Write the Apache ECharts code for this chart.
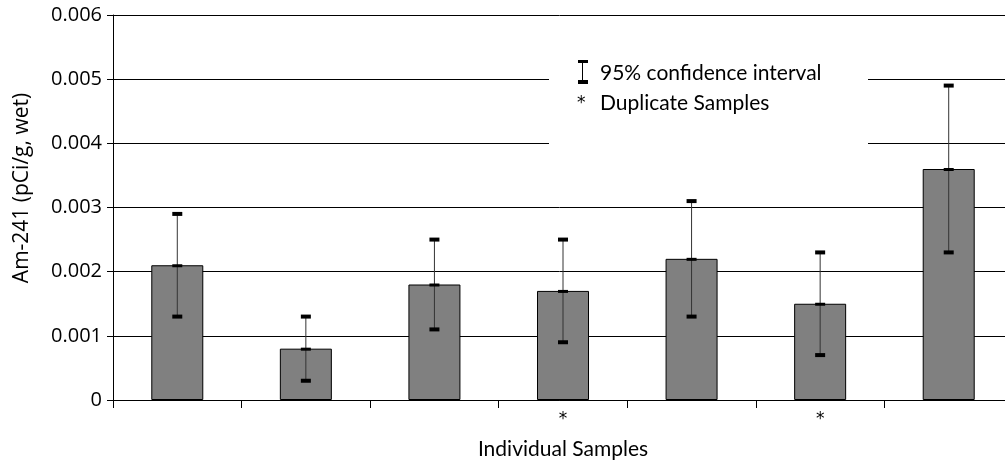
<!DOCTYPE html>
<html>
<head>
<meta charset="utf-8">
<script src="https://cdn.jsdelivr.net/npm/echarts@6/dist/echarts.min.js"></script>
<style>
  html, body { margin: 0; padding: 0; background: #fff; }
  #chart { width: 1005px; height: 461px; }
</style>
</head>
<body>
<div id="chart"></div>
<script>
// data
const samples = ['1', '2', '3', '4', '5', '6', '7'];
const tickLabels = ['', '', '', '*', '', '*', ''];
const values = [0.0021, 0.0008, 0.0018, 0.0017, 0.0022, 0.0015, 0.0036];
const lower = [0.0013, 0.0003, 0.0011, 0.0009, 0.0013, 0.0007, 0.0023];
const upper = [0.0029, 0.0013, 0.0025, 0.0025, 0.0031, 0.0023, 0.0049];

const errData = samples.map(function (s, i) {
    return [i, lower[i], values[i], upper[i]];
});

const chart = echarts.init(document.getElementById('chart'));

function renderErr(params, api) {
    const x = api.value(0);
    const lo = api.coord([x, api.value(1)]);
    const mid = api.coord([x, api.value(2)]);
    const hi = api.coord([x, api.value(3)]);
    const cw = 5;
    const capStyle = { fill: '#000' };
    return {
        type: 'group',
        children: [
            { type: 'line', shape: { x1: hi[0], y1: hi[1], x2: lo[0], y2: lo[1] },
              style: { stroke: '#333', lineWidth: 1 } },
            { type: 'rect', shape: { x: hi[0] - cw, y: hi[1] - 2, width: cw * 2, height: 4 }, style: capStyle },
            { type: 'rect', shape: { x: mid[0] - cw, y: mid[1] - 1, width: cw * 2, height: 3 }, style: capStyle },
            { type: 'rect', shape: { x: lo[0] - cw, y: lo[1] - 2, width: cw * 2, height: 4 }, style: capStyle }
        ]
    };
}

const option = {
    animation: false,
    grid: { left: 113, top: 15, width: 900, bottom: 61, outerBoundsMode: 'none', containLabel: false },
    xAxis: {
        type: 'category',
        data: tickLabels,
        name: 'Individual Samples',
        nameLocation: 'middle',
        nameGap: 39,
        nameMoveOverlap: false,
        nameTextStyle: { fontFamily: 'Lato', fontSize: 21, color: '#000' },
        axisLine: { lineStyle: { color: '#000', width: 1 } },
        axisTick: { show: true, length: 8, alignWithLabel: false, interval: 0, lineStyle: { color: '#000' } },
        axisLabel: { margin: 11, fontFamily: 'DejaVu Sans', fontSize: 17, color: '#000', interval: 0 },
        splitLine: { show: false }
    },
    yAxis: {
        type: 'value',
        min: 0,
        max: 0.006,
        interval: 0.001,
        axisLine: { show: true, lineStyle: { color: '#000', width: 1 } },
        axisTick: { show: true, length: 6, lineStyle: { color: '#000' } },
        axisLabel: {
            margin: 11,
            fontFamily: 'Open Sans',
            fontSize: 20,
            color: '#000',
            formatter: function (v) { return v === 0 ? '0' : v.toFixed(3); }
        },
        splitLine: { lineStyle: { color: '#000', width: 1 } }
    },
    graphic: [
        {
            type: 'text',
            x: 22,
            y: 188,
            rotation: Math.PI / 2,
            style: { text: 'Am-241 (pCi/g, wet)', fontFamily: 'Open Sans', fontSize: 21, fill: '#000', align: 'center', verticalAlign: 'middle' },
            z: 10
        },
        { type: 'rect', shape: { x: 549, y: 55, width: 319, height: 95 }, style: { fill: '#fff' }, z: 5 },
        { type: 'rect', shape: { x: 578, y: 60, width: 10, height: 3 }, style: { fill: '#000' }, z: 6 },
        { type: 'line', shape: { x1: 582.5, y1: 61, x2: 582.5, y2: 82 }, style: { stroke: '#000', lineWidth: 1 }, z: 6 },
        { type: 'rect', shape: { x: 578, y: 80, width: 10, height: 4 }, style: { fill: '#000' }, z: 6 },
        { type: 'text', x: 600, y: 73, style: { text: '95% confidence interval', fontFamily: 'Lato', fontSize: 21, fill: '#000', verticalAlign: 'middle' }, z: 6 },
        { type: 'text', x: 577, y: 104, style: { text: '*', fontFamily: 'DejaVu Sans', fontSize: 17, fill: '#000', verticalAlign: 'middle' }, z: 6 },
        { type: 'text', x: 600, y: 103, style: { text: 'Duplicate Samples', fontFamily: 'Lato', fontSize: 21, fill: '#000', verticalAlign: 'middle' }, z: 6 }
    ],
    series: [
        {
            type: 'bar',
            data: values,
            barWidth: 52,
            itemStyle: { color: '#808080', borderColor: '#000', borderWidth: 1 },
            z: 3
        },
        {
            type: 'custom',
            data: errData,
            renderItem: renderErr,
            encode: { x: 0, y: [1, 2, 3] },
            z: 4
        }
    ]
};

chart.setOption(option);
</script>
</body>
</html>
